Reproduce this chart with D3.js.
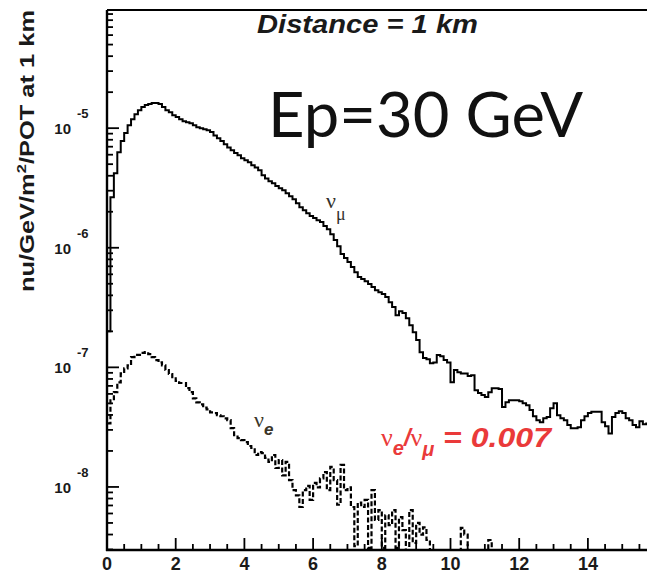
<!DOCTYPE html>
<html><head><meta charset="utf-8">
<script src="https://cdn.jsdelivr.net/npm/d3@7"></script>
<style>body{margin:0;background:#fff}svg{display:block}</style>
</head><body>
<svg id="chart" width="647" height="574"></svg>
<script>
// ---- data ----
const binWidth = 0.1; // GeV
const numuFlux = [
2.0e-7,2.65e-6,4.2e-6,6.3e-6,7.8e-6,9.1e-6,1.06e-5,1.19e-5,1.31e-5,1.41e-5,
1.50e-5,1.56e-5,1.59e-5,1.62e-5,1.62e-5,1.59e-5,1.50e-5,1.41e-5,1.36e-5,1.28e-5,
1.24e-5,1.19e-5,1.14e-5,1.12e-5,1.10e-5,1.06e-5,1.02e-5,1.00e-5,9.8e-6,9.6e-6,
9.3e-6,8.7e-6,8.25e-6,7.8e-6,7.35e-6,6.9e-6,6.55e-6,6.2e-6,5.94e-6,5.6e-6,
5.4e-6,5.2e-6,4.9e-6,4.7e-6,4.45e-6,4.04e-6,3.8e-6,3.6e-6,3.47e-6,3.28e-6,
3.15e-6,3.03e-6,2.86e-6,2.7e-6,2.55e-6,2.36e-6,2.18e-6,2.06e-6,1.94e-6,1.84e-6,
1.77e-6,1.70e-6,1.64e-6,1.52e-6,1.43e-6,1.30e-6,1.16e-6,1.03e-6,8.85e-7,8.2e-7,
7.6e-7,6.9e-7,6.25e-7,5.7e-7,5.47e-7,5.25e-7,4.97e-7,4.7e-7,4.42e-7,4.25e-7,
4.1e-7,3.87e-7,3.5e-7,3.2e-7,2.73e-7,2.95e-7,2.85e-7,2.57e-7,2.25e-7,1.97e-7,
1.69e-7,1.34e-7,1.2e-7,1.17e-7,1.08e-7,1.1e-7,1.27e-7,1.24e-7,1.15e-7,1.1e-7,
7.5e-8,9.5e-8,9.1e-8,8.9e-8,8.9e-8,8.45e-8,8.6e-8,6.45e-8,6.1e-8,5.86e-8,
5.65e-8,6.2e-8,6.7e-8,6.7e-8,6.6e-8,4.65e-8,5.1e-8,5.3e-8,5.3e-8,5.3e-8,
5.2e-8,5.0e-8,4.83e-8,4.4e-8,3.9e-8,3.62e-8,3.48e-8,3.75e-8,3.85e-8,4.55e-8,
5.0e-8,3.98e-8,3.75e-8,3.62e-8,3.29e-8,3.1e-8,3.1e-8,3.15e-8,3.62e-8,3.9e-8,
4.15e-8,4.25e-8,4.25e-8,4.25e-8,3.48e-8,3.22e-8,2.8e-8,3.85e-8,4.15e-8,4.3e-8,
4.15e-8,3.75e-8,3.62e-8,3.29e-8,3.15e-8,3.55e-8,3.35e-8,3.4e-8
];
const nueFlux = [
3.4e-8,5.3e-8,6.2e-8,7.5e-8,8.9e-8,9.8e-8,1.04e-7,1.22e-7,1.27e-7,1.27e-7,
1.32e-7,1.34e-7,1.29e-7,1.22e-7,1.15e-7,1.1e-7,1.04e-7,9.5e-8,8.8e-8,8.3e-8,
7.7e-8,7.4e-8,7.4e-8,6.7e-8,6.2e-8,5.5e-8,5.1e-8,4.9e-8,4.6e-8,4.45e-8,
4.2e-8,4.15e-8,3.98e-8,3.9e-8,3.75e-8,3.62e-8,3.1e-8,2.71e-8,2.56e-8,2.46e-8,
2.37e-8,2.2e-8,2.12e-8,1.85e-8,1.96e-8,1.92e-8,1.75e-8,1.62e-8,1.85e-8,1.44e-8,
1.68e-8,1.25e-8,1.62e-8,1.14e-8,9.4e-9,8.5e-9,6.8e-9,9.4e-9,1.02e-8,7.8e-9,
1.08e-8,9.9e-9,1.18e-8,1.33e-8,9.4e-9,1.47e-8,1.14e-8,7.1e-9,1.53e-8,9.4e-9,
9.9e-9,6.8e-9,3.2e-9,7.4e-9,6.8e-9,7.8e-9,3.1e-9,9.4e-9,5.3e-9,6.4e-9,
3.1e-9,5.8e-9,4.8e-9,6.4e-9,3.1e-9,5.6e-9,4.35e-9,0,6.4e-9,3.4e-9,
5.0e-9,4.0e-9,4.6e-9,3.6e-9,0,0,0,0,0,0,
0,0,0,4.55e-9,4.0e-9,0,0,0,0,0,
0,3.6e-9,0
];
const xTickValues = [0,2,4,6,8,10,12,14];
const yDecades = [1e-5,1e-6,1e-7,1e-8];
const yDecadeExponents = ["-5","-6","-7","-8"];
const titleText = "Distance = 1 km";
const energyText = "Ep=30 GeV";
const ratioValue = "0.007";

// ---- scales ----
const svg = d3.select("#chart");
const L = 107, R = 656.6, T = 10, B = 550;
const x = d3.scaleLinear().domain([0, 16]).range([L, R]);
const y = d3.scaleLog().domain([2.97e-9, 9.73e-5]).range([B, T]);

svg.append("rect").attr("width",647).attr("height",574).attr("fill","#fff");

svg.append("defs").append("clipPath").attr("id","plotclip")
  .append("rect").attr("x",L).attr("y",T).attr("width",R-L).attr("height",B-T);

function stepPoints(vals){
  const pts = vals.map((v,i)=>[i*binWidth, v]);
  pts.push([vals.length*binWidth, vals[vals.length-1]]);
  return pts;
}
const line = d3.line()
  .x(d=>x(d[0]))
  .y(d=>y(Math.max(d[1], 1e-10)))
  .curve(d3.curveStepAfter);

const plot = svg.append("g").attr("clip-path","url(#plotclip)");
plot.append("path").attr("d", line(stepPoints(numuFlux)))
  .attr("fill","none").attr("stroke","#000").attr("stroke-width",2)
  .attr("stroke-linejoin","miter");
plot.append("path").attr("d", line(stepPoints(nueFlux)))
  .attr("fill","none").attr("stroke","#000").attr("stroke-width",2.2)
  .attr("stroke-dasharray","5,2.5");

// ---- frame & axes ----
const ax = svg.append("g").attr("stroke","#000").attr("fill","none");
ax.append("line").attr("x1",L).attr("x2",R).attr("y1",T).attr("y2",T).attr("stroke-width",2);
ax.append("line").attr("x1",L).attr("x2",L).attr("y1",T).attr("y2",B+1).attr("stroke-width",2.4);
ax.append("line").attr("x1",L-1).attr("x2",R).attr("y1",B).attr("y2",B).attr("stroke-width",2.4);

// y ticks (log minor + major)
const yt = y.ticks();
ax.selectAll(".yt").data(yt).join("line")
  .attr("x1",L).attr("y1",d=>y(d)).attr("y2",d=>y(d))
  .attr("x2",d=>{const m=d/Math.pow(10,Math.floor(Math.log10(d)+1e-9));return Math.abs(m-1)<1e-6?L+12:L+6;})
  .attr("stroke-width",1.8);

// x ticks
const xMinor = d3.range(0, 16.01, 0.5);
ax.selectAll(".xt").data(xMinor).join("line")
  .attr("x1",d=>x(d)).attr("x2",d=>x(d)).attr("y1",B)
  .attr("y2",d=>Math.abs(d%2)<1e-6?B-12:B-6)
  .attr("stroke-width",1.8);

// x tick labels
svg.selectAll(".xl").data(xTickValues).join("text")
  .attr("x",d=>x(d)).attr("y",570).attr("text-anchor","middle")
  .attr("font-family","Liberation Sans, Arial, sans-serif").attr("font-weight","bold")
  .attr("font-size",18).attr("fill","#1a1a1a").text(d=>d);

// y tick labels 10^n
yDecades.forEach((d,i)=>{
  const g = svg.append("g").attr("font-family","Liberation Sans, Arial, sans-serif")
    .attr("font-weight","bold").attr("fill","#1a1a1a");
  g.append("text").attr("x",71).attr("y",y(d)+6).attr("text-anchor","end")
    .attr("font-size",15).text("10");
  g.append("text").attr("x",77).attr("y",y(d)-10).attr("font-size",13).text(yDecadeExponents[i]);
});

// y axis title
const yt2 = svg.append("text")
  .attr("transform","translate(34,151) rotate(-90)")
  .attr("text-anchor","middle")
  .attr("font-family","Liberation Sans, Arial, sans-serif")
  .attr("font-weight","bold").attr("font-size",20).attr("fill","#1a1a1a")
  .attr("textLength",282).attr("lengthAdjust","spacingAndGlyphs");
yt2.append("tspan").text("nu/GeV/m");
yt2.append("tspan").attr("dy",-8).attr("font-size",13).text("2");
yt2.append("tspan").attr("dy",8).text("/POT at 1 km");

// title
svg.append("text").attr("x",257).attr("y",33)
  .attr("font-family","Liberation Sans, Arial, sans-serif")
  .attr("font-weight","bold").attr("font-style","italic").attr("font-size",25)
  .attr("fill","#1a1a1a").attr("textLength",221).attr("lengthAdjust","spacingAndGlyphs")
  .text(titleText);

// big energy label
svg.append("text").attr("x",268).attr("y",137)
  .attr("font-family","Lato, 'Open Sans', sans-serif").attr("font-size",62)
  .attr("fill","#111").attr("textLength",315).attr("lengthAdjust","spacingAndGlyphs")
  .text(energyText);

// nu_mu label
const lm = svg.append("text").attr("x",326).attr("y",208)
  .attr("font-family","Liberation Serif, 'DejaVu Serif', serif").attr("fill","#33302a");
lm.append("tspan").attr("font-size",22).text("ν");
lm.append("tspan").attr("dy",12).attr("font-size",18).text("μ");

// nu_e label
const le = svg.append("text").attr("x",254).attr("y",427)
  .attr("font-family","Liberation Serif, 'DejaVu Serif', serif").attr("fill","#3a3528");
le.append("tspan").attr("font-size",22).text("ν");
le.append("tspan").attr("dy",8).attr("font-size",17).attr("font-weight","bold")
  .attr("font-style","italic").attr("font-family","Liberation Sans, Arial, sans-serif").text("e");

// ratio label
const red = "#ea3a3a";
const rl = svg.append("text").attr("x",381).attr("y",446)
  .attr("font-family","Liberation Sans, Arial, sans-serif")
  .attr("font-weight","bold").attr("font-style","italic").attr("fill",red);
rl.append("tspan").attr("font-size",26).attr("font-family","Liberation Serif, serif")
  .attr("font-weight","normal").attr("font-style","normal").text("ν");
rl.append("tspan").attr("dy",9).attr("font-size",20).text("e");
rl.append("tspan").attr("dy",-9).attr("font-size",24).text("/");
rl.append("tspan").attr("font-size",26).attr("font-family","Liberation Serif, serif")
  .attr("font-weight","normal").attr("font-style","normal").text("ν");
rl.append("tspan").attr("dy",10).attr("font-size",20).text("μ");
svg.append("text").attr("x",443).attr("y",447)
  .attr("font-family","Liberation Sans, Arial, sans-serif")
  .attr("font-weight","bold").attr("font-style","italic").attr("fill",red)
  .attr("font-size",27).attr("textLength",108).attr("lengthAdjust","spacingAndGlyphs")
  .text("= " + ratioValue);
</script>
</body></html>
